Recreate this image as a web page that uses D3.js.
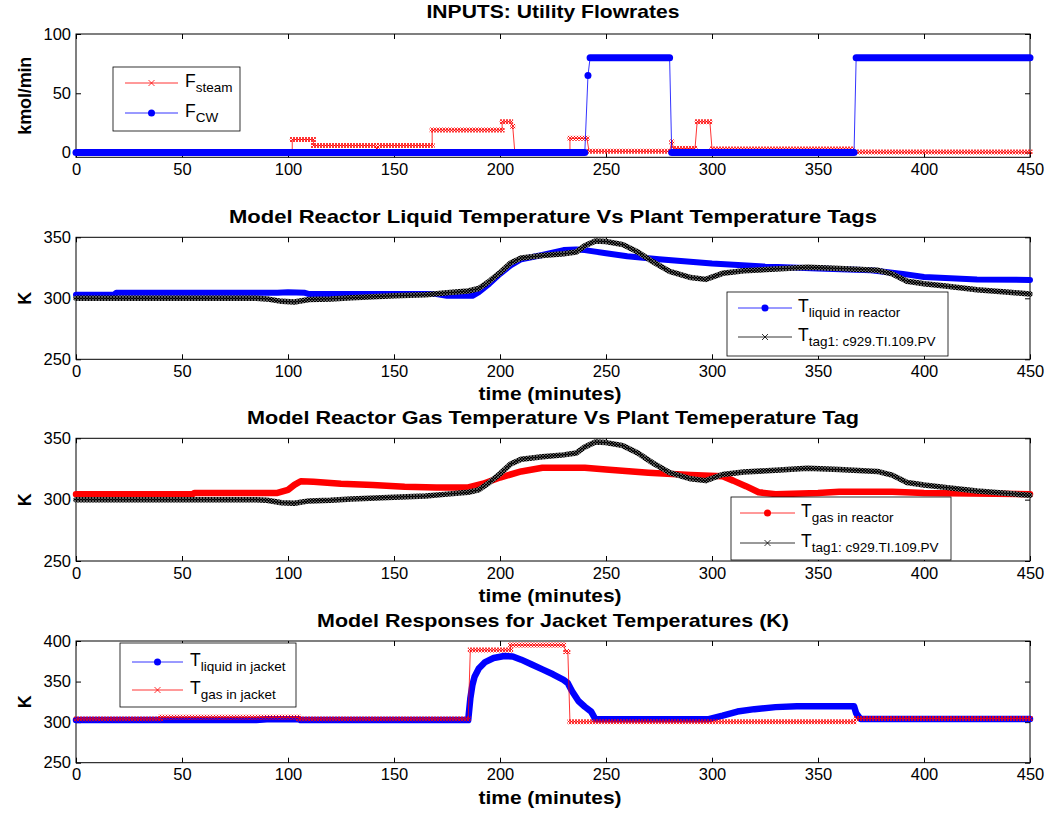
<!DOCTYPE html>
<html>
<head>
<meta charset="utf-8">
<script src="https://cdn.jsdelivr.net/npm/d3@7"></script>
<style>
  body { margin: 0; background: #fff; }
  svg { display: block; }
  text { font-family: "Liberation Sans", Arial, sans-serif; }
  .tick text { font-size: 16.5px; fill: #000; }
  .tick line { stroke: #000; }
</style>
</head>
<body>
<svg id="chart" width="1049" height="813"></svg>
<script>
// ---- data ----
var timeTicks = [0, 50, 100, 150, 200, 250, 300, 350, 400, 450];

// panel 1: utility flowrates, step plateaus [tStart, tEnd, kmol/min]
var steamSteps = [
  [0, 102, 0], [102, 112, 11], [112, 141, 6], [142, 142, 3], [143, 168, 6],
  [168, 201, 19], [201, 205, 26], [206, 206, 22], [207, 233, 0], [233, 241, 12],
  [242, 280, 1], [281, 281, 9], [282, 292, 3.5], [293, 299, 26], [300, 366, 3],
  [367, 450, 0.5]
];
var cwSteps = [
  [0, 240, 0], [241.5, 241.5, 65], [242.5, 280, 80], [281, 367, 0], [368, 450, 80]
];

// panel 2 & 3: reactor temperatures [t, K]
var tLiquidReactor = [
  [0, 303], [18, 303], [19, 304.5], [95, 304.5], [100, 305], [108, 304.5], [110, 303.5],
  [170, 303.5], [175, 302], [187, 302], [190, 305], [195, 312], [200, 320], [205, 327],
  [210, 332], [220, 335.5], [230, 339.5], [236, 340], [240, 339.5], [250, 337],
  [260, 334.5], [275, 332], [300, 328.5], [325, 326], [350, 324.5], [375, 323],
  [390, 320], [400, 317.5], [425, 315.5], [450, 315]
];
var tTag1 = [
  [0, 300], [40, 300], [85, 300], [90, 299.5], [97, 297.5], [103, 297], [110, 299],
  [120, 299.5], [130, 300.5], [150, 302], [165, 303], [175, 304.5], [185, 306],
  [190, 308], [195, 314], [200, 321], [205, 329], [210, 333], [220, 335], [230, 336.5],
  [236, 338], [240, 343], [245, 347], [250, 346.5], [258, 344], [265, 338], [272, 330],
  [280, 322], [290, 317], [297, 315.5], [305, 320.5], [315, 322.5], [330, 324],
  [345, 325.5], [360, 324.5], [378, 323], [385, 320], [392, 314], [400, 312],
  [410, 310], [425, 307], [440, 305], [450, 303.5]
];
var tGasReactor = [
  [0, 304.5], [55, 304.5], [56, 305.5], [95, 305.5], [100, 308], [103, 312], [106, 315],
  [112, 314.5], [125, 313], [140, 312], [155, 310.5], [170, 310], [185, 310], [192, 313],
  [200, 318], [210, 323], [220, 326], [240, 326], [250, 324.5], [270, 322], [290, 320],
  [305, 319], [310, 315.5], [316, 311], [322, 306], [330, 304.5], [350, 305.5],
  [360, 306.5], [385, 306.5], [400, 305.5], [450, 304.5]
];

// panel 4: jacket temperatures
var tLiquidJacket = [
  [0, 302.5], [85, 302.5], [90, 303.5], [105, 303.5], [106, 302.5], [185, 302.5],
  [186, 329], [187, 346], [188, 356], [190, 366], [193, 374], [197, 379], [202, 381.5],
  [206, 381], [210, 377], [215, 371], [220, 365], [225, 359], [230, 352], [232, 348],
  [234, 338], [237, 326], [240, 319], [243, 313], [245, 303.5], [298, 303.5], [305, 308],
  [312, 313], [320, 316], [330, 318.5], [340, 319.5], [367, 319.5], [368, 311],
  [370, 304], [450, 304]
];
var gasJacketSteps = [
  [0, 40, 304], [40, 105, 306], [105, 185, 304], [186, 205, 389], [205, 230, 395],
  [231, 232, 387], [233, 367, 300.5], [368, 450, 304.5]
];

var panelTitles = [
  "INPUTS: Utility Flowrates",
  "Model Reactor Liquid Temperature Vs Plant Temperature Tags",
  "Model Reactor Gas Temperature Vs Plant Temeperature Tag",
  "Model Responses for Jacket Temperatures (K)"
];

// ---- layout ----
var plotLeft = 76, plotRight = 1030;
var svg = d3.select("#chart");

var defs = svg.append("defs");
function xPattern(id, bg, fg, size, w) {
  var p = defs.append("pattern").attr("id", id)
    .attr("patternUnits", "userSpaceOnUse")
    .attr("width", size).attr("height", size);
  if (bg) p.append("rect").attr("width", size).attr("height", size).attr("fill", bg);
  p.append("path").attr("d", "M0,0L" + size + "," + size + "M" + size + ",0L0," + size)
    .attr("stroke", fg).attr("stroke-width", w);
}
xPattern("xred", null, "#ff0000", 3, 0.8);
xPattern("xblack", "#000", "#9a9a9a", 3, 0.6);

var xScale = d3.scaleLinear().domain([0, 450]).range([plotLeft, plotRight]);

var panels = [
  { top: 34, bottom: 157.3, domain: [-4, 100], ticks: [0, 50, 100], ylabel: "kmol/min", titleY: 18, titleW: 253, xlabelY: null },
  { top: 237.3, bottom: 359.3, domain: [250, 350], ticks: [250, 300, 350], ylabel: "K", titleY: 223, titleW: 648, xlabelY: 400 },
  { top: 438.3, bottom: 561, domain: [250, 350], ticks: [250, 300, 350], ylabel: "K", titleY: 424, titleW: 612, xlabelY: 602 },
  { top: 641, bottom: 762.7, domain: [250, 400], ticks: [250, 300, 350, 400], ylabel: "K", titleY: 627, titleW: 472, xlabelY: 804 }
];

panels.forEach(function(p, i) {
  p.y = d3.scaleLinear().domain(p.domain).range([p.bottom, p.top]);
  var g = svg.append("g");
  p.g = g;

  var axB = g.append("g").attr("transform", "translate(0," + p.bottom + ")")
    .call(d3.axisBottom(xScale).tickValues(timeTicks).tickSize(-5).tickPadding(6).tickFormat(d3.format("d")));
  var axT = g.append("g").attr("transform", "translate(0," + p.top + ")")
    .call(d3.axisTop(xScale).tickValues(timeTicks).tickSize(-5).tickFormat(""));
  var axL = g.append("g").attr("transform", "translate(" + plotLeft + ",0)")
    .call(d3.axisLeft(p.y).tickValues(p.ticks).tickSize(-5).tickPadding(5).tickFormat(d3.format("d")));
  var axR = g.append("g").attr("transform", "translate(" + plotRight + ",0)")
    .call(d3.axisRight(p.y).tickValues(p.ticks).tickSize(-5).tickFormat(""));
  [axB, axT, axL, axR].forEach(function(a) { a.select(".domain").remove(); a.attr("font-family", null).attr("font-size", null); });

  g.append("rect").attr("x", plotLeft).attr("y", p.top)
    .attr("width", plotRight - plotLeft).attr("height", p.bottom - p.top)
    .attr("fill", "none").attr("stroke", "#000").attr("stroke-width", 1);

  p.plot = g.append("g");

  g.append("text").attr("x", (plotLeft + plotRight) / 2).attr("y", p.titleY)
    .attr("text-anchor", "middle").attr("font-weight", "bold").attr("font-size", 18.5)
    .attr("textLength", p.titleW).attr("lengthAdjust", "spacingAndGlyphs")
    .text(panelTitles[i]);

  var cy = (p.top + p.bottom) / 2;
  var yl = g.append("text").attr("transform", "translate(31," + cy + ") rotate(-90)")
    .attr("text-anchor", "middle").attr("font-weight", "bold").attr("font-size", 18)
    .text(p.ylabel);
  if (p.ylabel.length > 2) yl.attr("textLength", 78);

  if (p.xlabelY) {
    g.append("text").attr("x", 550).attr("y", p.xlabelY)
      .attr("text-anchor", "middle").attr("font-weight", "bold").attr("font-size", 19)
      .attr("textLength", 143).attr("lengthAdjust", "spacingAndGlyphs")
      .text("time (minutes)");
  }
});

// ---- drawing helpers ----
function drawCurve(p, data, color, band, bandWidth) {
  var line = d3.line().x(function(d) { return xScale(d[0]); }).y(function(d) { return p.y(d[1]); });
  p.plot.append("path").attr("d", line(data)).attr("fill", "none")
    .attr("stroke", band).attr("stroke-width", bandWidth)
    .attr("stroke-linecap", "round").attr("stroke-linejoin", "round");
  p.plot.append("path").attr("d", line(data)).attr("fill", "none")
    .attr("stroke", color).attr("stroke-width", 0.8);
}

function drawSteps(p, steps, color, band, bandWidth, cap) {
  var pts = [];
  steps.forEach(function(s) { pts.push([s[0], s[2]]); pts.push([s[1], s[2]]); });
  var line = d3.line().x(function(d) { return xScale(d[0]); }).y(function(d) { return p.y(d[1]); });
  p.plot.append("path").attr("d", line(pts)).attr("fill", "none")
    .attr("stroke", color).attr("stroke-width", 0.8);
  p.plot.selectAll(null).data(steps).enter().append("path")
    .attr("d", function(s) { return line([[s[0], s[2]], [s[1], s[2]]]); })
    .attr("fill", "none").attr("stroke", band).attr("stroke-width", bandWidth)
    .attr("stroke-linecap", cap);
}

function drawLegend(p, box, entries) {
  var lg = p.g.append("g");
  lg.append("rect").attr("x", box.x0).attr("y", box.y0)
    .attr("width", box.x1 - box.x0).attr("height", box.y1 - box.y0)
    .attr("fill", "#fff").attr("stroke", "#000").attr("stroke-width", 0.8);
  entries.forEach(function(e, i) {
    var ry = box.rows[i];
    lg.append("line").attr("x1", box.lx0).attr("x2", box.lx1).attr("y1", ry).attr("y2", ry)
      .attr("stroke", e.color).attr("stroke-width", 0.8);
    var mx = (box.lx0 + box.lx1) / 2;
    if (e.marker === "dot") {
      lg.append("circle").attr("cx", mx).attr("cy", ry).attr("r", 3.5).attr("fill", e.markerColor);
    } else {
      lg.append("path").attr("d", "M" + (mx - 3) + "," + (ry - 3) + "L" + (mx + 3) + "," + (ry + 3) +
        "M" + (mx + 3) + "," + (ry - 3) + "L" + (mx - 3) + "," + (ry + 3))
        .attr("stroke", e.markerColor).attr("stroke-width", 0.8);
    }
    var t = lg.append("text").attr("x", box.tx).attr("y", ry + 4).attr("font-size", 17.5);
    t.append("tspan").text(e.main);
    t.append("tspan").attr("dy", 5).attr("font-size", 13.5).text(e.sub);
  });
}

// ---- panel 1 ----
drawSteps(panels[0], steamSteps, "#ff0000", "url(#xred)", 5, "square");
drawSteps(panels[0], cwSteps, "#0000ff", "#0000ff", 7, "round");
drawLegend(panels[0], { x0: 113, y0: 67, x1: 240, y1: 131, rows: [83, 113], lx0: 125, lx1: 178, tx: 185 }, [
  { main: "F", sub: "steam", color: "#ff0000", markerColor: "#ff0000", marker: "x" },
  { main: "F", sub: "CW", color: "#0000ff", markerColor: "#0000ff", marker: "dot" }
]);

// ---- panel 2 ----
drawCurve(panels[1], tLiquidReactor, "#0000ff", "#0000ff", 6);
drawCurve(panels[1], tTag1, "#000", "url(#xblack)", 5.5);
drawLegend(panels[1], { x0: 727, y0: 292, x1: 948, y1: 356, rows: [308, 337], lx0: 738, lx1: 792, tx: 798 }, [
  { main: "T", sub: "liquid in reactor", color: "#0000ff", markerColor: "#0000ff", marker: "dot" },
  { main: "T", sub: "tag1: c929.TI.109.PV", color: "#000", markerColor: "#000", marker: "x" }
]);

// ---- panel 3 ----
drawCurve(panels[2], tGasReactor, "#ff0000", "#ff0000", 6.5);
drawCurve(panels[2], tTag1, "#000", "url(#xblack)", 5.5);
drawLegend(panels[2], { x0: 731, y0: 497, x1: 951, y1: 560, rows: [513, 543], lx0: 740, lx1: 795, tx: 801 }, [
  { main: "T", sub: "gas in reactor", color: "#ff0000", markerColor: "#ff0000", marker: "dot" },
  { main: "T", sub: "tag1: c929.TI.109.PV", color: "#000", markerColor: "#000", marker: "x" }
]);

// ---- panel 4 ----
drawCurve(panels[3], tLiquidJacket, "#0000ff", "#0000ff", 6.5);
drawSteps(panels[3], gasJacketSteps, "#ff0000", "url(#xred)", 5, "square");
drawLegend(panels[3], { x0: 120, y0: 643, x1: 296, y1: 707, rows: [662, 690], lx0: 132, lx1: 183, tx: 190 }, [
  { main: "T", sub: "liquid in jacket", color: "#0000ff", markerColor: "#0000ff", marker: "dot" },
  { main: "T", sub: "gas in jacket", color: "#ff0000", markerColor: "#ff0000", marker: "x" }
]);
</script>
</body>
</html>
